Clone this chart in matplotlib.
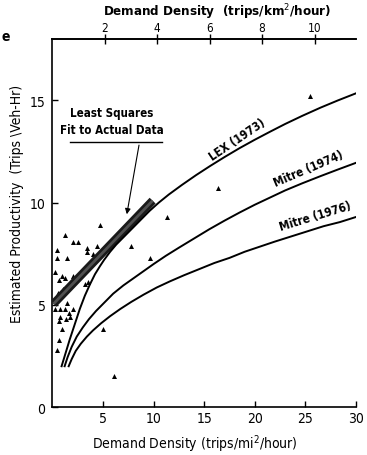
import matplotlib
matplotlib.use('Agg')
import matplotlib.pyplot as plt

plt.rcParams['font.family'] = ['DejaVu Sans']
plt.rcParams['font.stretch'] = 'condensed'

# curves (trips/veh-hr vs trips/mi^2/hour)
lex_x = [0.9, 1.3, 1.7, 2.2, 2.7, 3.2, 3.7, 4.2, 4.7, 5.1, 5.7, 6.3, 7.0, 7.6, 8.6, 9.6,
         10.5, 11.5, 12.8, 14.2, 15.6, 17.0, 18.5, 20.0, 21.5, 23.0, 24.7, 26.5, 28.2, 30.0]
lex_y = [2.0, 2.65, 3.3, 4.05, 4.8, 5.45, 6.0, 6.5, 6.9, 7.2, 7.6, 7.95, 8.3, 8.6, 9.1, 9.6,
         10.0, 10.4, 10.87, 11.35, 11.8, 12.23, 12.67, 13.08, 13.47, 13.85, 14.25, 14.65, 15.0, 15.35]

m74_x = [1.2, 1.5, 1.9, 2.4, 3.0, 3.6, 4.3, 5.1, 6.0, 7.0, 8.0, 9.0, 10.0, 11.2, 12.5,
         14.0, 15.5, 17.0, 18.5, 20.0, 21.5, 23.0, 24.7, 26.5, 28.2, 30.0]
m74_y = [2.0, 2.45, 2.95, 3.45, 3.9, 4.3, 4.7, 5.1, 5.55, 5.95, 6.3, 6.65, 7.0, 7.4, 7.8,
         8.25, 8.7, 9.12, 9.52, 9.9, 10.25, 10.6, 10.95, 11.3, 11.62, 11.95]

m76_x = [1.6, 1.9, 2.3, 2.8, 3.4, 4.0, 4.8, 5.7, 6.7, 7.8, 9.0, 10.3, 11.6, 13.0, 14.5,
         16.0, 17.5, 19.0, 20.5, 22.0, 23.6, 25.2, 26.8, 28.4, 30.0]
m76_y = [2.0, 2.35, 2.75, 3.1, 3.45, 3.75, 4.1, 4.45, 4.8, 5.15, 5.5, 5.85, 6.15, 6.45, 6.75,
         7.05, 7.3, 7.6, 7.85, 8.1, 8.35, 8.6, 8.85, 9.05, 9.3]

# least squares fit endpoints
fit_x = [0.1, 9.9]
fit_y = [5.05, 10.1]

# observed data (triangles)
obs_x = [25.5, 16.4, 11.3, 7.8, 9.6, 5.0, 6.1, 4.7, 1.2, 2.0, 2.5, 0.4, 3.4, 4.4, 3.4, 4.0,
         0.4, 1.4, 0.25, 0.9, 2.0, 0.6, 1.2, 1.9, 3.2, 3.5, 0.5, 1.0, 0.25, 0.7, 1.2, 1.6,
         2.0, 1.4, 0.7, 1.7, 0.6, 0.9, 0.6, 0.4, 1.3]
obs_y = [15.2, 10.7, 9.3, 7.9, 7.3, 3.8, 1.5, 8.9, 8.4, 8.1, 8.1, 7.7, 7.8, 7.9, 7.6, 7.5,
         7.3, 7.3, 6.6, 6.4, 6.4, 6.2, 6.3, 6.0, 6.0, 6.1, 5.6, 5.8, 4.8, 4.8, 4.8, 4.6,
         4.8, 5.1, 4.4, 4.4, 4.2, 3.8, 3.3, 2.8, 4.3]

fig = plt.figure(figsize=(3.67, 4.56), dpi=100)
ax = fig.add_axes([0.143, 0.105, 0.827, 0.807])
ax.set_xlim(0, 30)
ax.set_ylim(0, 18)

# observed points
ax.scatter(obs_x, obs_y, marker='^', s=13, color='black', lw=0, zorder=3)

# least squares band
ax.plot(fit_x, fit_y, color='#1a1a1a', lw=6.0, solid_capstyle='butt', zorder=4)
ax.plot(fit_x, fit_y, color='#505050', lw=2.0, solid_capstyle='butt', zorder=4)

# model curves
for cx, cy in [(lex_x, lex_y), (m74_x, m74_y), (m76_x, m76_y)]:
	ax.plot(cx, cy, color='black', lw=1.4, zorder=5)

lab = dict(fontsize=8.5, fontweight='bold', ha='center', va='center')
ax.text(18.3, 13.1, 'LEX (1973)', rotation=34, **lab)
ax.text(25.3, 11.7, 'Mitre (1974)', rotation=23, **lab)
ax.text(26.0, 9.35, 'Mitre (1976)', rotation=17, **lab)

# annotation for the fit
ax.text(5.9, 14.0, 'Least Squares\nFit to Actual Data', fontsize=8.3, fontweight='bold',
	ha='center', va='center', linespacing=1.45)
ax.plot([1.7, 10.8], [12.95, 12.95], color='black', lw=1.0)
ax.annotate('', xy=(7.3, 9.3), xytext=(8.6, 12.95),
	arrowprops=dict(arrowstyle='-|>', color='black', lw=0.8, mutation_scale=8))

# axes styling
ax.spines['right'].set_visible(False)
for s in ['left', 'bottom', 'top']:
	ax.spines[s].set_linewidth(1.2)

ax.set_xticks([5, 10, 15, 20, 25, 30])
ax.set_yticks([0, 5, 10, 15])
ax.tick_params(axis='both', direction='in', length=4, width=1.0, labelsize=10)
ax.tick_params(axis='x', pad=3)
ax.tick_params(axis='y', pad=5)
ax.set_xlabel('Demand Density (trips/mi$^2$/hour)', fontsize=10)
ax.xaxis.set_label_coords(0.469, -0.068)
ax.set_ylabel('Estimated Productivity  (Trips \\Veh-Hr)', fontsize=10)
ax.yaxis.set_label_coords(-0.094, 0.556)

# top axis in trips/km^2/hour
sec = ax.secondary_xaxis('top', functions=(lambda x: x / 2.59, lambda x: x * 2.59))
sec.set_xticks([2, 4, 6, 8, 10])
sec.tick_params(direction='inout', length=7, width=1.0, labelsize=8.5, pad=0.5)
sec.spines['top'].set_linewidth(1.2)
fig.text(0.591, 0.973, 'Demand Density  (trips/km$^2$/hour)', fontsize=9.5,
	fontweight='heavy', ha='center', va='center')

fig.text(0.005, 0.918, 'e', fontsize=10, fontweight='bold', ha='left', va='center')

plt.savefig('out.png', dpi=100)
